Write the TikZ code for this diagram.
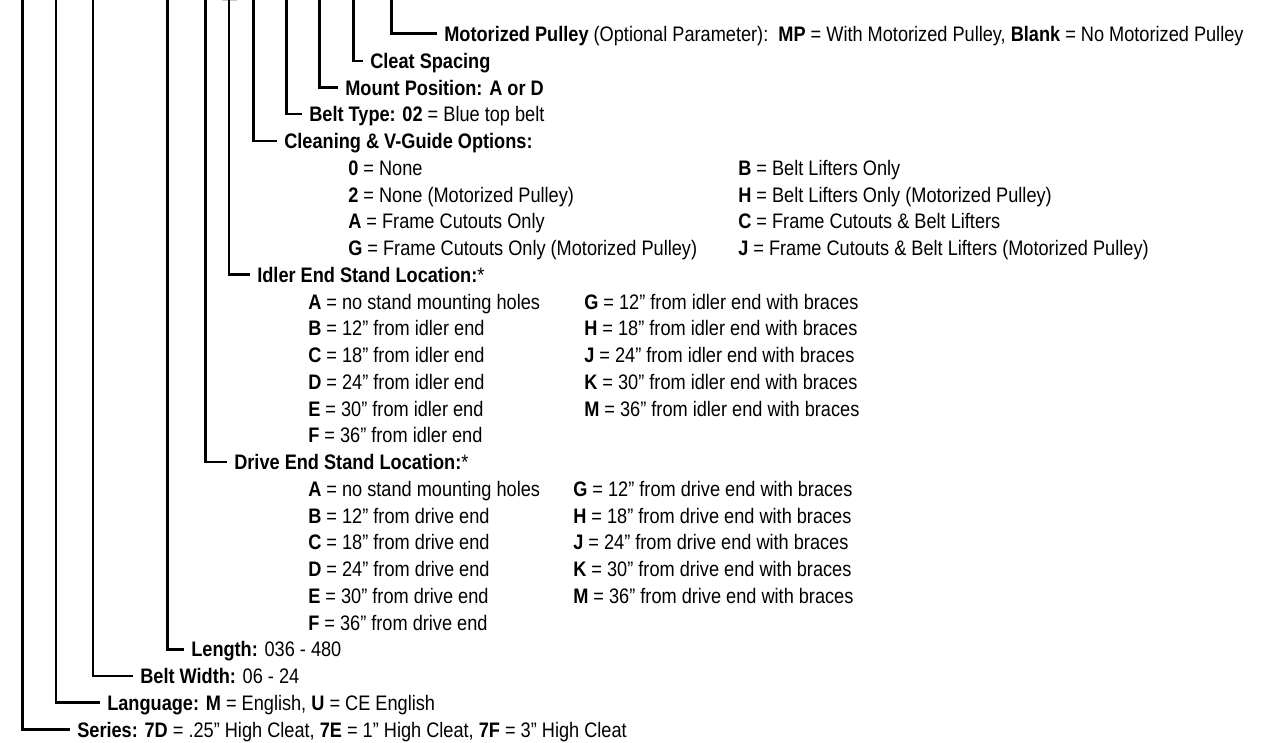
\documentclass[tikz,border=0pt]{standalone}
\usepackage{fontspec}
\setmainfont{Liberation Sans}[FakeStretch=0.865]
\begin{document}
\begin{tikzpicture}[x=1pt, y=-1pt, line width=2.6pt,
  every node/.style={font=\fontsize{21}{25}\selectfont, inner sep=0pt,
    text height=15pt, text depth=0pt, anchor=west},
  head/.style={inner xsep=6pt}]
  % Page frame
  \useasboundingbox (0,0) rectangle (1263,742);
  % Faint mark at the top edge
  \draw[gray!45, line width=1pt] (222,0.5) -- (237,0.5);
  % Tops of the code lines
  \foreach \name/\x in {series/22.3, lang/56, width/93, length/167.3, drive/205.3,
                        idler/229, clean/253.7, belt/286.7, mount/319.3,
                        cleat/353.3, motor/391.7}{
    \coordinate (top-\name) at (\x,-4);
  }
  % Parameter headings
  \node[head] (motor) at (437,33.5) {\textbf{Motorized Pulley} (Optional Parameter):\ \ \textbf{MP} = With Motorized Pulley, \textbf{Blank} = No Motorized Pulley};
  \node[head] (cleat) at (363,61) {\textbf{Cleat Spacing}};
  \node[head] (mount) at (338,87.5) {\textbf{Mount Position: A or D}};
  \node[head] (belt) at (302,114) {\textbf{Belt Type: 02} = Blue top belt};
  \node[head] (clean) at (277,141) {\textbf{Cleaning \& V-Guide Options:}};
  \node[head] (idler) at (250,{141+26.75*5}) {\textbf{Idler End Stand Location:}*};
  \node[head] (drive) at (227,{141+26.75*12}) {\textbf{Drive End Stand Location:}*};
  \node[head] (length) at (184,{141+26.75*19}) {\textbf{Length:} 036 - 480};
  \node[head] (width) at (133,{141+26.75*20}) {\textbf{Belt Width:} 06 - 24};
  \node[head] (lang) at (100,{141+26.75*21}) {\textbf{Language: M} = English, \textbf{U} = CE English};
  \node[head] (series) at (70,{141+26.75*22}) {\textbf{Series: 7D} = .25” High Cleat, \textbf{7E} = 1” High Cleat, \textbf{7F} = 3” High Cleat};
  % Code lines down to their headings
  \foreach \name in {series, lang, width, length, drive, idler, clean, belt, mount, cleat, motor}{
    \draw (top-\name) |- (\name.west);
  }
  % Cleaning and V-guide choices
  \foreach \code/\desc [count=\i] in {0/None, 2/None (Motorized Pulley),
      A/Frame Cutouts Only, G/Frame Cutouts Only (Motorized Pulley)}{
    \node (clean-\code) at (347,{141+26.75*\i}) {\textbf{\code} = \desc};
  }
  \foreach \code/\desc [count=\i] in {B/Belt Lifters Only, H/Belt Lifters Only (Motorized Pulley),
      C/Frame Cutouts \& Belt Lifters, J/Frame Cutouts \& Belt Lifters (Motorized Pulley)}{
    \node (clean-\code) at (737,{141+26.75*\i}) {\textbf{\code} = \desc};
  }
  % Stand locations, idler end and drive end
  \foreach \where/\k/\xr in {idler/5/583, drive/12/572}{
    \node (\where-A) at (307,{141+26.75*(\k+1)}) {\textbf{A} = no stand mounting holes};
    \foreach \code/\dist [count=\i from 2] in {B/12, C/18, D/24, E/30, F/36}{
      \node (\where-\code) at (307,{141+26.75*(\k+\i)}) {\textbf{\code} = \dist” from \where\ end};
    }
    \foreach \code/\dist [count=\i] in {G/12, H/18, J/24, K/30, M/36}{
      \node (\where-\code) at (\xr,{141+26.75*(\k+\i)}) {\textbf{\code} = \dist” from \where\ end with braces};
    }
  }
\end{tikzpicture}
\end{document}
